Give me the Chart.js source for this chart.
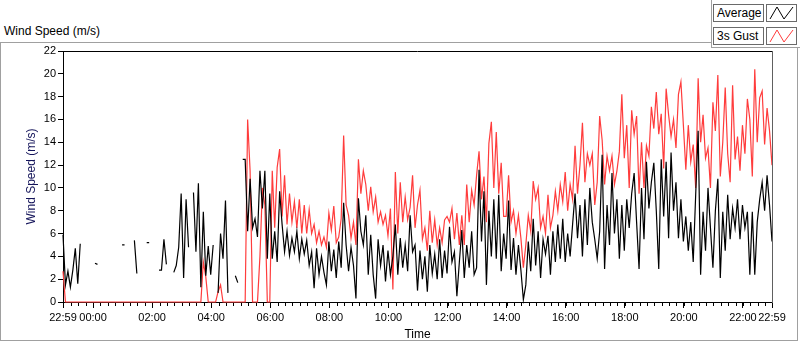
<!DOCTYPE html>
<html>
<head>
<meta charset="utf-8">
<script src="https://cdn.jsdelivr.net/npm/chart.js@4.4.1/dist/chart.umd.min.js"></script>
<style>
  body { margin: 0; width: 800px; height: 342px; position: relative; background: #fff; overflow: hidden;
         font-family: "Liberation Sans", Arial, sans-serif; font-size: 12px; color: #000; }
  #frame { position: absolute; left: 0; top: 42px; width: 798px; height: 299px; border: 1px solid #a0a0a0; box-sizing: border-box; }
  #title { position: absolute; left: 4px; top: 23px; line-height: 16px; }
  #legendPanel { position: absolute; left: 711px; top: 0; width: 89px; height: 48px; background: #fff;
                 border-left: 1px solid #a0a0a0; border-bottom: 1px solid #a0a0a0; box-sizing: border-box; }
  .lbl { position: absolute; left: 713px; width: 51px; height: 18px; border: 1px solid #6a6a6a; box-sizing: border-box;
         padding-left: 3px; line-height: 16px; background: #fff; }
  .icon { position: absolute; left: 766px; width: 31px; height: 18px; border: 1px solid #6a6a6a; box-sizing: border-box; background: #fff; }
  canvas { position: absolute; left: 0; top: 0; }
</style>
</head>
<body>
<div id="frame"></div>
<div id="title">Wind Speed (m/s)</div>
<div id="legendPanel"></div>
<div class="lbl" style="top:4px">Average</div>
<div class="icon" style="top:4px"><svg width="29" height="16"><polyline points="3,14 10,2 17,14 26,2" fill="none" stroke="#000" stroke-width="1"/></svg></div>
<div class="lbl" style="top:27px">3s Gust</div>
<div class="icon" style="top:27px"><svg width="29" height="16"><polyline points="3,14 10,2 17,14 26,2" fill="none" stroke="#ff3c3c" stroke-width="1"/></svg></div>
<canvas id="chart" width="800" height="342"></canvas>
<script>
// samples every 5 min starting 22:59
const STEP = 5;

// tick positions (minutes after 22:59) and their labels
const tickMinutes = [0, 61, 181, 301, 421, 541, 661, 781, 901, 1021, 1141, 1261, 1381, 1440];
const tickLabels = ['22:59', '00:00', '02:00', '04:00', '06:00', '08:00', '10:00', '12:00',
                    '14:00', '16:00', '18:00', '20:00', '22:00', '22:59'];

// Average wind speed (m/s), null = no data
const average = [
  5.9, 1.5, 2.7, 1.3, 2.8, 4.7, 1.6, 5.1, null, null,
  null, null, null, 3.4, 3.3, null, null, null, null, null,
  null, null, null, null, 5.0, 5.0, null, null, null, 5.4,
  2.5, null, null, null, 5.2, 5.2, null, null, null, 2.8,
  2.8, 5.5, 3.3, null, null, 2.6, 3.2, 4.8, 9.5, 2.1,
  9.0, 4.8, null, 9.6, 4.4, 10.4, 1.3, 7.9, 2.3, 4.9,
  2.4, 5.0, null, 0.8, 6.0, 3.8, 8.9, 0.8, null, null,
  2.3, 1.7, null, 12.5, 12.5, 6.2, 10.8, 6.5, 7.3, 5.7,
  11.5, 8.2, 11.5, 3.8, 9.5, 3.8, 6.2, 3.5, 9.7, 6.8,
  4.4, 6.2, 4.1, 5.6, 4.4, 6.2, 3.8, 5.5, 4.2, 5.4,
  3.2, 4.4, 1.2, 4.7, 2.4, 4.0, 2.6, 1.5, 5.3, 2.7,
  4.6, 2.1, 5.3, 3.0, 8.7, 5.0, 2.7, 4.8, 3.2, 0.3,
  9.1, 6.2, 5.0, 7.6, 2.4, 5.9, 2.4, 0.3, 5.5, 3.2,
  5.0, 1.8, 4.5, 2.4, 4.0, 6.8, 2.4, 5.6, 3.0, 5.0,
  2.7, 7.6, 4.4, 5.0, 1.0, 4.5, 2.0, 4.0, 0.9, 5.0,
  2.5, 4.2, 2.0, 5.5, 2.1, 4.5, 2.5, 6.6, 3.5, 4.4,
  0.5, 3.5, 6.3, 2.1, 5.0, 3.0, 6.2, 2.4, 3.0, 11.6,
  5.3, 9.7, 1.5, 8.0, 4.0, 9.0, 3.8, 9.4, 2.7, 6.0,
  3.8, 8.9, 2.8, 5.6, 2.4, 5.0, 2.8, 0.2, 1.5, 5.3,
  2.7, 7.3, 3.2, 6.2, 2.1, 5.5, 4.2, 5.8, 2.4, 6.2,
  3.5, 6.8, 3.8, 7.3, 3.5, 6.0, 4.0, 6.8, 9.5, 5.6,
  8.5, 4.0, 9.0, 5.0, 10.0, 7.0, 5.5, 3.8, 6.2, 12.9,
  2.9, 8.5, 5.0, 11.3, 6.0, 9.0, 3.8, 8.5, 4.5, 9.0,
  6.5, 9.5, 11.3, 7.0, 2.9, 10.0, 5.5, 12.3, 8.2, 10.5,
  12.2, 8.0, 2.9, 12.5, 7.5, 12.3, 5.6, 13.1, 8.0, 10.5,
  5.6, 9.0, 5.3, 7.5, 4.5, 7.0, 3.5, 9.4, 15.0, 2.4,
  7.9, 4.5, 10.0, 6.5, 3.0, 8.0, 10.8, 2.1, 7.9, 4.5,
  9.4, 5.5, 8.2, 6.5, 9.0, 5.5, 8.5, 6.5, 7.9, 2.4,
  7.9, 2.4, 7.0, 9.0, 10.5, 8.0, 11.1, 8.5, 5.3
];

// 3 second gust (m/s)
const gust = [
  2.7, 0, 0, 0, 0, 0, 0, 0, 0, 0,
  0, 0, 0, 0, 0, 0, 0, 0, 0, 0,
  0, 0, 0, 0, 0, 0, 0, 0, 0, 0,
  0, 0, 0, 0, 0, 0, 0, 0, 0, 0,
  0, 0, 0, 0, 0, 0, 0, 0, 0, 0,
  0, 0, 0, 0, 0, 0, 0, 3.5, 2.2, 0,
  0, 0, 0, 0.9, 1.5, 0, 0, 0, 0, 0,
  0, 0, 0, 0, 0, 16.0, 11.5, 0, 0, 0,
  4.0, 10.0, 8.5, 0, 0, 11.5, 6.5, 11.8, 13.4, 7.5,
  11.1, 6.8, 9.5, 7.0, 8.8, 6.5, 9.0, 6.0, 8.5, 6.0,
  8.1, 6.0, 6.8, 5.2, 6.2, 5.0, 5.7, 4.8, 7.8, 6.3,
  8.4, 5.2, 5.7, 7.3, 14.6, 8.5, 7.6, 5.6, 7.0, 5.0,
  12.5, 9.5, 11.5, 10.3, 8.0, 10.1, 7.9, 9.2, 7.0, 7.9,
  6.8, 7.6, 5.8, 8.2, 1.1, 11.4, 6.0, 10.5, 7.0, 9.2,
  7.2, 8.3, 11.1, 6.5, 8.5, 9.8, 5.5, 6.5, 4.5, 8.0,
  5.2, 7.2, 5.0, 6.5, 5.2, 7.2, 7.5, 7.0, 8.2, 5.5,
  7.8, 5.0, 7.6, 5.0, 10.3, 7.0, 9.8, 8.5, 11.1, 13.2,
  9.0, 11.0, 7.0, 13.9, 15.8, 10.0, 14.9, 9.5, 12.2, 7.5,
  7.5, 11.1, 7.0, 8.0, 6.0, 7.6, 5.6, 3.0, 5.0, 7.6,
  6.2, 10.6, 9.0, 10.0, 6.5, 7.5, 6.0, 9.4, 6.5, 7.6,
  9.7, 8.0, 10.3, 8.8, 11.4, 8.0, 10.3, 9.0, 13.7, 9.5,
  12.0, 15.7, 10.5, 13.0, 12.0, 13.0, 8.5, 10.5, 16.3, 14.2,
  10.3, 12.8, 11.5, 12.8, 10.3, 11.5, 13.2, 18.2, 12.6, 15.5,
  10.0, 16.8, 14.7, 16.3, 9.5, 14.0, 10.0, 13.7, 12.8, 17.1,
  15.2, 18.4, 14.7, 16.5, 11.7, 18.7, 16.4, 14.5, 16.0, 13.5,
  18.2, 19.3, 15.5, 11.6, 15.5, 12.3, 13.8, 10.0, 19.6, 14.0,
  16.4, 12.6, 13.5, 10.0, 17.5, 15.0, 19.9, 11.0, 14.0, 18.8,
  13.0, 10.5, 19.0, 12.5, 14.5, 11.5, 15.5, 13.0, 17.8, 16.0,
  11.0, 20.4, 14.0, 17.9, 18.5, 13.8, 17.0, 15.0, 12.0
];

const FONT = { family: '"Liberation Sans", Arial, sans-serif', size: 11 };

// top/right border of the plot and the 15 min minor ticks
const frameLines = {
  id: 'frameLines',
  afterDraw(chart) {
    const { ctx, chartArea: a, scales: { x } } = chart;
    ctx.save();
    ctx.lineWidth = 1;
    ctx.strokeStyle = '#000';
    ctx.beginPath();
    ctx.moveTo(a.left, a.top + 0.5);
    ctx.lineTo(a.right, a.top + 0.5);
    for (let m = 1; m <= 1440; m += 15) {
      const px = Math.round(x.getPixelForValue(m)) + 0.5;
      ctx.moveTo(px, a.bottom + 1);
      ctx.lineTo(px, a.bottom + 4);
    }
    ctx.stroke();
    ctx.strokeStyle = '#606060';
    ctx.beginPath();
    ctx.moveTo(a.right + 0.5, a.top);
    ctx.lineTo(a.right + 0.5, a.bottom + 1);
    ctx.stroke();
    ctx.restore();
  }
};

new Chart(document.getElementById('chart').getContext('2d'), {
  type: 'line',
  data: {
    datasets: [{
      label: 'Average',
      data: average.map((v, i) => ({ x: i * STEP, y: v })),
      borderColor: '#000',
      borderWidth: 1.2,
      pointRadius: 0,
      tension: 0,
      spanGaps: false,
      clip: 3
    }, {
      label: '3s Gust',
      data: gust.map((v, i) => ({ x: i * STEP, y: v })),
      borderColor: '#ff3c3c',
      borderWidth: 1.2,
      pointRadius: 0,
      tension: 0,
      spanGaps: false,
      clip: 3
    }]
  },
  options: {
    responsive: false,
    animation: false,
    devicePixelRatio: 1,
    layout: { padding: { left: 0, top: 51, right: 28, bottom: 0 } },
    plugins: { legend: { display: false }, tooltip: { enabled: false } },
    scales: {
      x: {
        type: 'linear',
        min: 0,
        max: 1440,
        afterBuildTicks: s => { s.ticks = tickMinutes.map(v => ({ value: v })); },
        afterFit: s => { s.height = 40; },
        grid: { display: true, drawOnChartArea: false, tickLength: 6, color: '#000' },
        border: { display: true, color: '#000' },
        ticks: {
          autoSkip: false, maxRotation: 0, padding: 3, color: '#000', font: FONT,
          callback: (v, i) => tickLabels[i]
        },
        title: { display: true, text: 'Time', color: '#000', font: { ...FONT, size: 12 }, padding: 0 }
      },
      y: {
        min: 0,
        max: 22,
        afterFit: s => { s.width = 63; },
        grid: { drawOnChartArea: false, tickLength: 5, color: '#000' },
        border: { display: true, color: '#000' },
        ticks: { stepSize: 2, padding: 2, color: '#000', font: FONT },
        title: { display: true, text: 'Wind Speed (m/s)', color: '#14145a', font: { ...FONT, size: 12 }, padding: { top: 24, bottom: 0 } }
      }
    }
  },
  plugins: [frameLines]
});
</script>
</body>
</html>
